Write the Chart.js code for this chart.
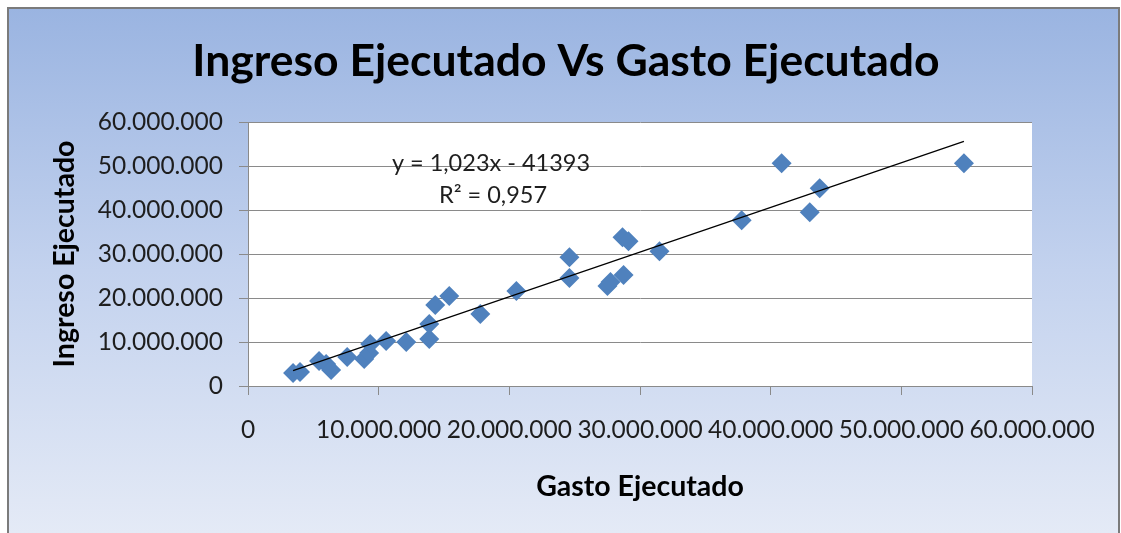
<!DOCTYPE html>
<html>
<head>
<meta charset="utf-8">
<script src="https://cdn.jsdelivr.net/npm/chart.js@4"></script>
<style>
  html, body { margin: 0; padding: 0; background: #fff; }
  #wrap { width: 1121px; height: 533px; }
</style>
</head>
<body>
<div id="wrap"><canvas id="scatterChart"></canvas></div>
<script>
// DATA
const gastoEjecutado = [
  3450000, 3980000, 5440000, 5980000, 6360000, 7590000, 8890000, 9270000,
  9350000, 10570000, 12110000, 13870000, 13870000, 14330000, 15400000, 17780000,
  20540000, 24600000, 24600000, 27510000, 27740000, 28740000, 28660000, 29120000,
  31490000, 37780000, 40840000, 42990000, 43750000, 54790000
];
const ingresoEjecutado = [
  2950000, 3180000, 5680000, 4990000, 3630000, 6580000, 6130000, 7490000,
  9530000, 10220000, 9990000, 10670000, 14070000, 18390000, 20430000, 16340000,
  21570000, 29280000, 24520000, 22700000, 23610000, 25200000, 33830000, 32920000,
  30650000, 37680000, 50620000, 39500000, 44950000, 50620000
];
// trend line end points as drawn in the reference
const trendX = [3450000, 54790000];
const trendY = [3490000, 55600000];
const trendLabels = ["y = 1,023x - 41393", "R² = 0,957"];

const chartTitle = "Ingreso Ejecutado Vs Gasto Ejecutado";
const xTitle = "Gasto Ejecutado";
const yTitle = "Ingreso Ejecutado";

const FONT = "Lato, 'DejaVu Sans', sans-serif";

// format 10000000 -> 10.000.000
function fmt(v) {
  return String(Math.round(v)).replace(/\B(?=(\d{3})+(?!\d))/g, ".");
}

const points = gastoEjecutado.map((x, i) => ({ x: x, y: ingresoEjecutado[i] }));
const trend = trendX.map((x, i) => ({ x: x, y: trendY[i] }));

// frame + gradient background and white plot area
const backgroundPlugin = {
  id: "bg",
  beforeDraw(chart) {
    const ctx = chart.ctx;
    const a = chart.chartArea;
    ctx.save();
    ctx.fillStyle = "#ffffff";
    ctx.fillRect(0, 0, chart.width, chart.height);
    const g = ctx.createLinearGradient(0, 8, 0, chart.height);
    g.addColorStop(0, "#9AB4E1");
    g.addColorStop(0.5, "#C3D2EE");
    g.addColorStop(1, "#E4EAF6");
    ctx.fillStyle = g;
    ctx.fillRect(8, 8, 1111, chart.height);
    ctx.strokeStyle = "#7b7b7b";
    ctx.lineWidth = 2;
    ctx.strokeRect(8, 8, 1111, chart.height + 10);
    ctx.fillStyle = "#ffffff";
    ctx.fillRect(a.left, a.top, a.right - a.left, a.bottom - a.top);
    ctx.restore();
  }
};

// chart title (centred on the frame) and regression equation text
const textPlugin = {
  id: "texts",
  afterDatasetsDraw(chart) {
    const ctx = chart.ctx;
    ctx.save();
    ctx.textAlign = "center";
    ctx.textBaseline = "middle";
    ctx.fillStyle = "#000";
    ctx.font = "bold 44.5px " + FONT;
    ctx.fillText(chartTitle, 566, 62);
    ctx.font = "23.5px " + FONT;
    ctx.fillStyle = "#1e1e1e";
    ctx.fillText(trendLabels[0], 491, 163);
    ctx.fillText(trendLabels[1], 493, 195);
    ctx.restore();
  }
};

const el = document.querySelector("#scatterChart");

new Chart(el, {
  type: "scatter",
  data: {
    datasets: [
      {
        label: "Ingreso",
        data: points,
        pointStyle: "rectRot",
        pointRadius: 10,
        pointHoverRadius: 10,
        backgroundColor: "#4F81BD",
        borderColor: "#4F81BD",
        borderWidth: 0,
        order: 2
      },
      {
        type: "line",
        label: "Tendencia",
        data: trend,
        borderColor: "#000000",
        borderWidth: 1.2,
        pointRadius: 0,
        fill: false,
        order: 1
      }
    ]
  },
  options: {
    responsive: true,
    maintainAspectRatio: false,
    animation: false,
    layout: { padding: { top: 122, left: 0, right: 89, bottom: 0 } },
    plugins: {
      legend: { display: false },
      tooltip: { enabled: false },
      title: { display: false }
    },
    scales: {
      x: {
        type: "linear",
        min: 0,
        max: 60000000,
        afterFit(scale) { scale.height = 147; },
        ticks: {
          stepSize: 10000000,
          padding: 20,
          color: "#1e1e1e",
          font: { family: FONT, size: 24.5 },
          callback: (v) => fmt(v),
          maxRotation: 0,
          autoSkip: false
        },
        grid: { display: true, drawOnChartArea: false, tickLength: 9, color: "#8a8a8a" },
        border: { display: true, color: "#8a8a8a" },
        title: {
          display: true,
          text: xTitle,
          color: "#000",
          font: { family: FONT, size: 28.5, weight: "bold" },
          padding: { top: 0, bottom: 29 }
        }
      },
      y: {
        type: "linear",
        min: 0,
        max: 60000000,
        afterFit(scale) { scale.width = 248; },
        ticks: {
          stepSize: 10000000,
          padding: 16,
          color: "#1e1e1e",
          font: { family: FONT, size: 24.5 },
          callback: (v) => fmt(v)
        },
        grid: { display: true, tickLength: 9, color: "#8a8a8a" },
        border: { display: true, color: "#8a8a8a" },
        title: {
          display: true,
          text: yTitle,
          color: "#000",
          font: { family: FONT, size: 28.5, weight: "bold" },
          padding: { top: 48, bottom: 0 }
        }
      }
    }
  },
  plugins: [backgroundPlugin, textPlugin]
});
</script>
</body>
</html>
